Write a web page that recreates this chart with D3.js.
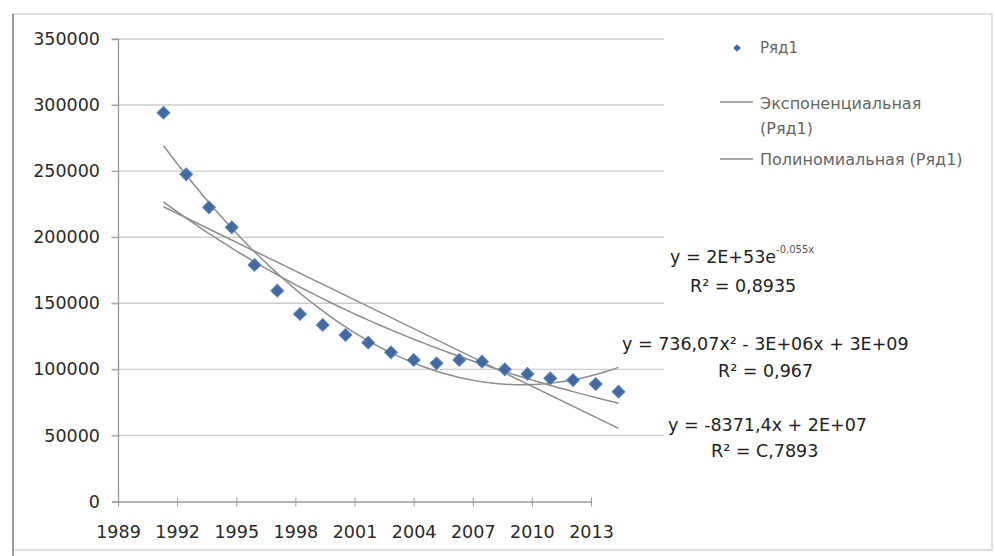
<!DOCTYPE html>
<html>
<head>
<meta charset="utf-8">
<script src="https://cdn.jsdelivr.net/npm/d3@7/dist/d3.min.js"></script>
<style>
  html, body { margin: 0; padding: 0; background: #fff; }
  svg { display: block; }
  text { font-family: "DejaVu Sans", "Liberation Sans", sans-serif; }
</style>
</head>
<body>
<svg id="chart" width="995" height="556"></svg>
<script>
// ---------- data ----------
const years = [1991, 1992, 1993, 1994, 1995, 1996, 1997, 1998, 1999, 2000, 2001,
               2002, 2003, 2004, 2005, 2006, 2007, 2008, 2009, 2010, 2011];
const values = [294200, 247600, 222600, 207500, 179000, 159500, 141900, 133600, 126000, 120200, 112900,
                107100, 104600, 107100, 105800, 100000, 96500, 93200, 91900, 88900, 83100];
const xTicks = [1989, 1992, 1995, 1998, 2001, 2004, 2007, 2010, 2013];
const yTicks = [0, 50000, 100000, 150000, 200000, 250000, 300000, 350000];
const seriesName = "Ряд1";
const legendLabels = [["Экспоненциальная", "(Ряд1)"], ["Полиномиальная (Ряд1)"]];
const eqExp = ["y = 2E+53e", "-0,055x", "R² = 0,8935"];
const eqPoly = ["y = 736,07x² - 3E+06x + 3E+09", "R² = 0,967"];
const eqLin = ["y = -8371,4x + 2E+07", "R² = C,7893"];

// ---------- setup ----------
const svg = d3.select("#chart");

// frame
svg.append("rect").attr("x", 13).attr("y", 14).attr("width", 979).attr("height", 536)
  .attr("fill", "#fff").attr("stroke", "#d4d4d4").attr("stroke-width", 1.5);
svg.append("line").attr("x1", 13).attr("x2", 13).attr("y1", 14).attr("y2", 556)
  .attr("stroke", "#8a8a8a").attr("stroke-width", 1.6);

const y = d3.scaleLinear().domain([0, 350000]).range([501.5, 39]);
const x = d3.scaleLinear().domain([1989, 2013]).range([118, 664]);      // plot area
const xAxisScale = d3.scaleLinear().domain([1989, 2013]).range([118, 591]); // drawn axis

// gridlines
svg.append("g").selectAll("line").data(yTicks.filter(d => d > 0)).join("line")
  .attr("x1", 111).attr("x2", 664)
  .attr("y1", d => y(d)).attr("y2", d => y(d))
  .attr("stroke", "#cdcdcd").attr("stroke-width", 1.4);

// y axis
const yAxis = svg.append("g").attr("transform", "translate(118,0)")
  .call(d3.axisLeft(y).tickValues(yTicks).tickFormat(d3.format("d")).tickSize(6).tickPadding(12));
yAxis.select(".domain").attr("stroke", "#9a9a9a").attr("stroke-width", 1.3);
yAxis.selectAll(".tick line").attr("stroke", "#9a9a9a");
yAxis.selectAll("text").attr("font-size", 17.5).attr("fill", "#2a2a2a");

// x axis
const xAxis = svg.append("g").attr("transform", "translate(0,501.5)")
  .call(d3.axisBottom(xAxisScale).tickValues(xTicks).tickFormat(d3.format("d")).tickSizeInner(5).tickSizeOuter(0).tickPadding(19));
xAxis.select(".domain").attr("stroke", "#9a9a9a").attr("stroke-width", 1.3);
xAxis.selectAll(".tick line").attr("stroke", "#9a9a9a").attr("y1", -4);
xAxis.selectAll("text").attr("font-size", 17.5).attr("fill", "#2a2a2a");

// ---------- regressions ----------
const t0 = 2001;
const ts = years.map(v => v - t0);
function linFit(xs, ys) {
  const mx = d3.mean(xs), my = d3.mean(ys);
  let sxy = 0, sxx = 0;
  xs.forEach((xv, i) => { sxy += (xv - mx) * (ys[i] - my); sxx += (xv - mx) ** 2; });
  const b = sxy / sxx;
  return { a: my - b * mx, b };
}
function quadFit(xs, ys) {
  const S = k => d3.sum(xs, v => v ** k);
  const T = k => d3.sum(xs.map((v, i) => ys[i] * v ** k));
  const A = [[S(0), S(1), S(2)], [S(1), S(2), S(3)], [S(2), S(3), S(4)]];
  const B = [T(0), T(1), T(2)];
  for (let i = 0; i < 3; i++) {
    for (let j = i + 1; j < 3; j++) {
      const f = A[j][i] / A[i][i];
      for (let k = i; k < 3; k++) A[j][k] -= f * A[i][k];
      B[j] -= f * B[i];
    }
  }
  const c = [0, 0, 0];
  for (let i = 2; i >= 0; i--) {
    let s = B[i];
    for (let k = i + 1; k < 3; k++) s -= A[i][k] * c[k];
    c[i] = s / A[i][i];
  }
  return c;
}
const lin = linFit(ts, values);
const ex = linFit(ts, values.map(Math.log));
const quad = quadFit(ts, values);

const tFirst = d3.min(years), tLast = d3.max(years);
const samples = d3.range(tFirst, tLast + 0.001, 0.25);
const line = d3.line().x(d => x(d[0])).y(d => y(d[1]));

const trendColor = "#8d8d8d";
const linPts = [tFirst, tLast].map(v => [v, lin.a + lin.b * (v - t0)]);
const expPts = samples.map(v => [v, Math.exp(ex.a + ex.b * (v - t0))]);
const quadPts = samples.map(v => { const t = v - t0; return [v, quad[0] + quad[1] * t + quad[2] * t * t]; });

[linPts, expPts, quadPts].forEach(pts => {
  svg.append("path").attr("d", line(pts)).attr("fill", "none")
    .attr("stroke", trendColor).attr("stroke-width", 1.5);
});

// ---------- markers ----------
const diamond = d3.symbol().type(d3.symbolSquare).size(82);
svg.append("g").selectAll("path").data(years).join("path")
  .attr("d", diamond())
  .attr("transform", (d, i) => `translate(${x(d)},${y(values[i])}) rotate(45)`)
  .attr("fill", "#44699d").attr("stroke", "#5c84bb").attr("stroke-width", 1);

// ---------- legend ----------
const lg = svg.append("g");
lg.append("path").attr("d", d3.symbol().type(d3.symbolSquare).size(30)())
  .attr("transform", "translate(737,48) rotate(45)").attr("fill", "#44699d");
lg.append("text").attr("x", 760).attr("y", 53).attr("font-size", 15).attr("fill", "#666").text(seriesName);
lg.append("line").attr("x1", 720).attr("x2", 753).attr("y1", 102).attr("y2", 102)
  .attr("stroke", trendColor).attr("stroke-width", 1.5);
const t1 = lg.append("text").attr("font-size", 16).attr("fill", "#666");
t1.append("tspan").attr("x", 760).attr("y", 109).text(legendLabels[0][0]);
t1.append("tspan").attr("x", 760).attr("y", 134).text(legendLabels[0][1]);
lg.append("line").attr("x1", 720).attr("x2", 753).attr("y1", 159).attr("y2", 159)
  .attr("stroke", trendColor).attr("stroke-width", 1.5);
lg.append("text").attr("x", 760).attr("y", 165).attr("font-size", 16).attr("fill", "#666").text(legendLabels[1][0]);

// ---------- equations ----------
const eqG = svg.append("g").attr("font-size", 17.5).attr("fill", "#222");
const e1 = eqG.append("text").attr("x", 670).attr("y", 263);
e1.append("tspan").text(eqExp[0]);
e1.append("tspan").attr("font-size", 10).attr("dy", -10).attr("fill", "#555").text(eqExp[1]);
eqG.append("text").attr("x", 690).attr("y", 292).text(eqExp[2]);
eqG.append("text").attr("x", 622).attr("y", 350).text(eqPoly[0]);
eqG.append("text").attr("x", 718).attr("y", 377).text(eqPoly[1]);
eqG.append("text").attr("x", 668).attr("y", 431).text(eqLin[0]);
eqG.append("text").attr("x", 711).attr("y", 457).text(eqLin[1]);
</script>
</body>
</html>
